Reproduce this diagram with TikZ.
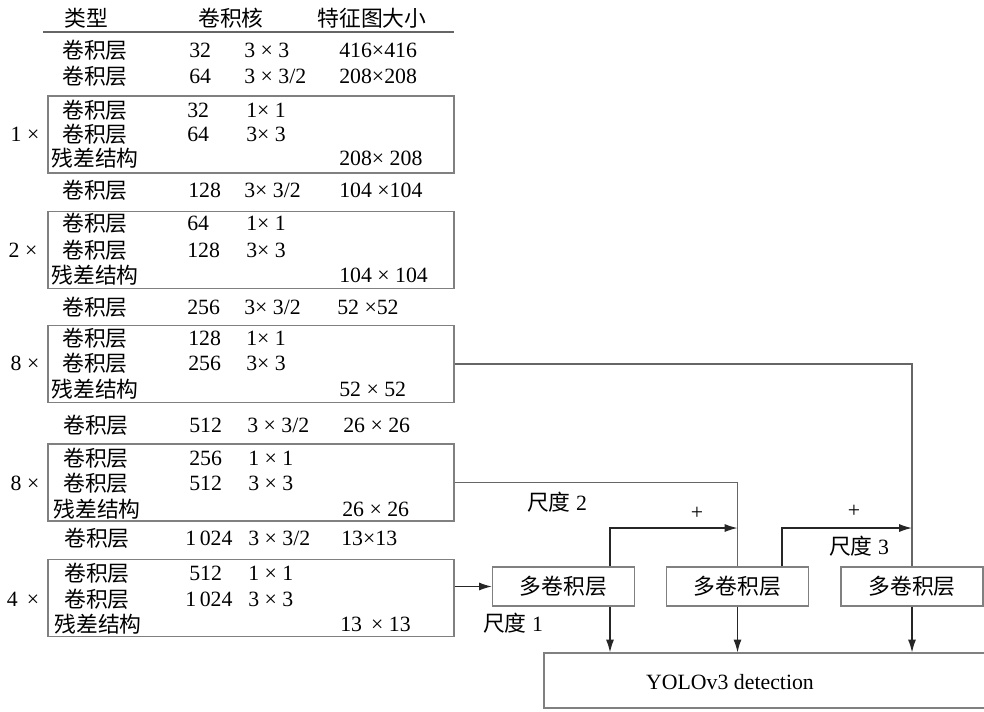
\documentclass[tikz,border=0pt]{standalone}
\usepackage{fontspec}
\setmainfont{Liberation Serif}
\newfontfamily\cjk{Noto Sans CJK SC}
\usetikzlibrary{arrows.meta, positioning}
\usepackage{xcolor}

\begin{document}
\begin{tikzpicture}[
x=0.025cm, y=-0.025cm,
font=\fontsize{15.5}{17}\selectfont,
txt/.style={inner sep=0pt},
lbl/.style={inner sep=0pt, anchor=west},
resbox/.style={draw=black!50, line width=0.8pt,
minimum width=10.15cm, minimum height=1.925cm, inner sep=0pt},
mcbox/.style={draw=black!50, line width=0.8pt,
minimum width=3.55cm, minimum height=0.975cm},
line/.style={draw=black!60, line width=0.8pt},
arrow/.style={-{Latex[length=3.2mm, width=2mm]}, line width=0.9pt, black!85}
]
\useasboundingbox (0,0) rectangle (984,711);

% header
\node[txt] (hdtype) at (86,18) {\cjk 类型};
\node[txt] (hdkern) at (231,18) {\cjk 卷积核};
\node[txt] (hdsize) at (372,18) {\cjk 特征图大小};
\draw[line] (43,32) -- (454,32);

% residual boxes
\node[resbox] (res1) at (251,134.5) {};
\node[resbox] (res2) at (251,250) {};
\node[resbox] (res3) at (251,364) {};
\node[resbox] (res4) at (251,482.5) {};
\node[resbox] (res5) at (251,598) {};

\node[txt] (rep1) at (25,134) {1 ×};
\node[txt] (rep2) at (23,250) {2 ×};
\node[txt] (rep3) at (25,363) {8 ×};
\node[txt] (rep4) at (25,483) {8 ×};
\node[txt] (rep5) at (23,599) {4 \,×};

% rows
\node[txt] (t1) at (95,50) {\cjk 卷积层};
\node[lbl] (n1) at (189,50) {32};
\node[lbl] (k1) at (244,50) {3 × 3};
\node[lbl] (s1) at (339,50) {416×416};

\node[txt] (t2) at (95,76) {\cjk 卷积层};
\node[lbl] (n2) at (189,76) {64};
\node[lbl] (k2) at (244,76) {3 × 3/2};
\node[lbl] (s2) at (339,76) {208×208};

\node[txt] (t3) at (95,110) {\cjk 卷积层};
\node[lbl] (n3) at (187,110) {32};
\node[lbl] (k3) at (246,110) {1× 1};
\node[txt] (t4) at (95,134) {\cjk 卷积层};
\node[lbl] (n4) at (187,134) {64};
\node[lbl] (k4) at (246,134) {3× 3};
\node[txt] (t5) at (95,158) {\cjk 残差结构};
\node[lbl] (s5) at (339,158) {208× 208};

\node[txt] (t6) at (95,190) {\cjk 卷积层};
\node[lbl] (n6) at (188,190) {128};
\node[lbl] (k6) at (244,190) {3× 3/2};
\node[lbl] (s6) at (339,190) {104 ×104};

\node[txt] (t7) at (95,223) {\cjk 卷积层};
\node[lbl] (n7) at (187,223) {64};
\node[lbl] (k7) at (246,223) {1× 1};
\node[txt] (t8) at (95,250) {\cjk 卷积层};
\node[lbl] (n8) at (187,250) {128};
\node[lbl] (k8) at (246,250) {3× 3};
\node[txt] (t9) at (95,275) {\cjk 残差结构};
\node[lbl] (s9) at (339,275) {104 × 104};

\node[txt] (t10) at (95,307) {\cjk 卷积层};
\node[lbl] (n10) at (187,307) {256};
\node[lbl] (k10) at (244,307) {3× 3/2};
\node[lbl] (s10) at (337,307) {52 ×52};

\node[txt] (t11) at (95,338) {\cjk 卷积层};
\node[lbl] (n11) at (188,338) {128};
\node[lbl] (k11) at (246,338) {1× 1};
\node[txt] (t12) at (95,363) {\cjk 卷积层};
\node[lbl] (n12) at (188,363) {256};
\node[lbl] (k12) at (246,363) {3× 3};
\node[txt] (t13) at (95,389) {\cjk 残差结构};
\node[lbl] (s13) at (339,389) {52 × 52};

\node[txt] (t14) at (96,425) {\cjk 卷积层};
\node[lbl] (n14) at (189,425) {512};
\node[lbl] (k14) at (247,425) {3 × 3/2};
\node[lbl] (s14) at (343,425) {26 × 26};

\node[txt] (t15) at (96,458) {\cjk 卷积层};
\node[lbl] (n15) at (189,458) {256};
\node[lbl] (k15) at (248,458) {1 × 1};
\node[txt] (t16) at (96,483) {\cjk 卷积层};
\node[lbl] (n16) at (189,483) {512};
\node[lbl] (k16) at (248,483) {3 × 3};
\node[txt] (t17) at (97,509) {\cjk 残差结构};
\node[lbl] (s17) at (342,509) {26 × 26};

\node[txt] (t18) at (97,538) {\cjk 卷积层};
\node[lbl] (n18) at (185,538) {1\,024};
\node[lbl] (k18) at (248,538) {3 × 3/2};
\node[lbl] (s18) at (341,538) {13×13};

\node[txt] (t19) at (97,573) {\cjk 卷积层};
\node[lbl] (n19) at (189,573) {512};
\node[lbl] (k19) at (248,573) {1 × 1};
\node[txt] (t20) at (97,599) {\cjk 卷积层};
\node[lbl] (n20) at (185,599) {1\,024};
\node[lbl] (k20) at (248,599) {3 × 3};
\node[txt] (t21) at (98,624) {\cjk 残差结构};
\node[lbl] (s21) at (340,624) {13 \,× 13};

% detection branch
\node[mcbox] (mc1) at (563.5,586.5) {\cjk 多卷积层};
\node[mcbox] (mc2) at (737.5,586.5) {\cjk 多卷积层};
\node[mcbox] (mc3) at (912,586.5) {\cjk 多卷积层};
\node[draw=black!50, line width=0.8pt, minimum width=11.4cm,
minimum height=1.375cm] (det) at (772,680.5) {};
\node[txt] (dettext) at (730,682) {YOLOv3 detection};

\coordinate (j1) at (610,528);
\coordinate (j2) at (782,528);

\draw[arrow] (res5.east |- mc1) -- (mc1.west);
\draw[line] (res4.east) -| (mc2.north);
\draw[line] (res3.east) -| (mc3.north);
\draw[arrow] (j1 |- mc1.north) -- (j1) -- (mc2.north |- j1);
\draw[arrow] (j2 |- mc2.north) -- (j2) -- (mc3.north |- j2);
\draw[arrow] (j1 |- mc1.south) -- (j1 |- det.north);
\draw[arrow] (mc2.south) -- (mc2.south |- det.north);
\draw[arrow] (mc3.south) -- (mc3.south |- det.north);

\node[txt] (plus1) at (697,513) {+};
\node[txt] (plus2) at (854,511) {+};
\node[txt] (scale1) at (513,623) {{\cjk 尺度} 1};
\node[txt] (scale2) at (557,502) {{\cjk 尺度} 2};
\node[txt] (scale3) at (859,546) {{\cjk 尺度} 3};

\end{tikzpicture}
\end{document}
